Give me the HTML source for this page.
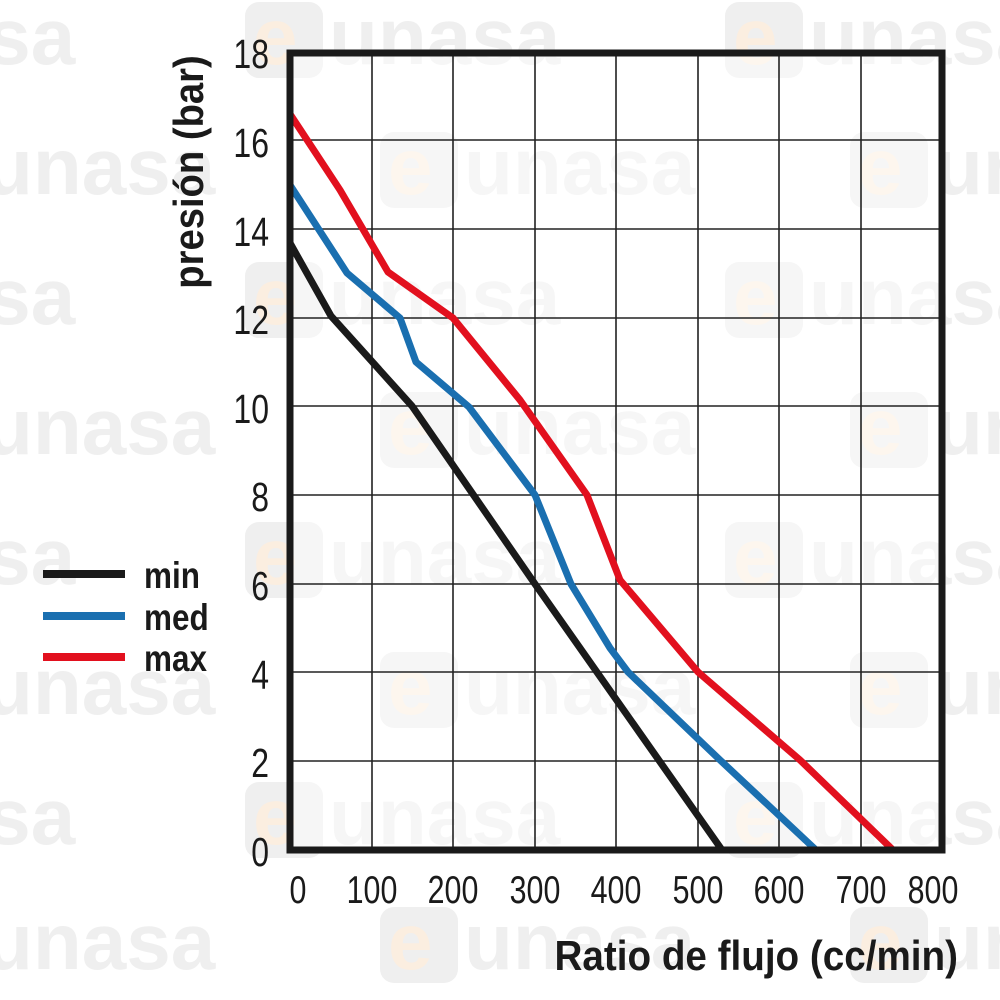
<!DOCTYPE html>
<html><head><meta charset="utf-8"><style>
html,body{margin:0;padding:0;background:#fff;}
svg{display:block;}
</style></head><body>
<svg width="1000" height="1000" viewBox="0 0 1000 1000" xmlns="http://www.w3.org/2000/svg">
<defs>
<g id="wm">
<rect x="0" y="-38" width="78" height="76" rx="14" fill="#efefef"/>
<text x="8" y="24" font-family="Liberation Sans, sans-serif" font-size="80" fill="#fbeee0" font-weight="bold">e</text>
<text x="84" y="24" font-family="Liberation Sans, sans-serif" font-size="80" fill="#efefef" font-weight="bold">unasa</text>
</g>
</defs>
<g>
<use href="#wm" x="-240" y="40"/><use href="#wm" x="245" y="40"/><use href="#wm" x="725" y="40"/>
<use href="#wm" x="-100" y="170"/><use href="#wm" x="380" y="170"/><use href="#wm" x="850" y="170"/>
<use href="#wm" x="-240" y="300"/><use href="#wm" x="245" y="300"/><use href="#wm" x="725" y="300"/>
<use href="#wm" x="-100" y="430"/><use href="#wm" x="380" y="430"/><use href="#wm" x="850" y="430"/>
<use href="#wm" x="-240" y="560"/><use href="#wm" x="245" y="560"/><use href="#wm" x="725" y="560"/>
<use href="#wm" x="-100" y="690"/><use href="#wm" x="380" y="690"/><use href="#wm" x="850" y="690"/>
<use href="#wm" x="-240" y="820"/><use href="#wm" x="245" y="820"/><use href="#wm" x="725" y="820"/>
<use href="#wm" x="-100" y="945"/><use href="#wm" x="380" y="945"/><use href="#wm" x="850" y="945"/>
</g>
<rect x="290" y="53" width="652" height="797" fill="#fff" fill-opacity="0.45"/>
<g stroke="#222" stroke-width="1.6">
<line x1="372" y1="53" x2="372" y2="850"/><line x1="453" y1="53" x2="453" y2="850"/>
<line x1="535" y1="53" x2="535" y2="850"/><line x1="616" y1="53" x2="616" y2="850"/>
<line x1="698" y1="53" x2="698" y2="850"/><line x1="779" y1="53" x2="779" y2="850"/>
<line x1="861" y1="53" x2="861" y2="850"/>
<line x1="290" y1="761" x2="942" y2="761"/><line x1="290" y1="672" x2="942" y2="672"/>
<line x1="290" y1="584" x2="942" y2="584"/><line x1="290" y1="495" x2="942" y2="495"/>
<line x1="290" y1="406" x2="942" y2="406"/><line x1="290" y1="318" x2="942" y2="318"/>
<line x1="290" y1="229" x2="942" y2="229"/><line x1="290" y1="140" x2="942" y2="140"/>
</g>
<g fill="none" stroke-width="7" stroke-linejoin="round">
<polyline stroke="#e2101e" points="290,114 340,190 388,272 453,318 520,400 587,495 620,580 698,672 800,760 893,850"/>
<polyline stroke="#1a6fb0" points="290,185 347,273 400,318 416,362 469,407 535,495 571,584 610,648 628,672 720,760 816,850"/>
<polyline stroke="#1a1a1a" points="290,243 331,316 412,406 535,584 722,850"/>
</g>
<rect x="290" y="53" width="652" height="797" fill="none" stroke="#1a1a1a" stroke-width="7"/>
<g font-family="Liberation Sans, sans-serif" font-size="41" fill="#1a1a1a" text-anchor="end">
<text transform="translate(269 68) scale(0.78 1)">18</text>
<text transform="translate(269 157) scale(0.78 1)">16</text>
<text transform="translate(269 246) scale(0.78 1)">14</text>
<text transform="translate(269 334) scale(0.78 1)">12</text>
<text transform="translate(269 423) scale(0.78 1)">10</text>
<text transform="translate(269 511) scale(0.78 1)">8</text>
<text transform="translate(269 600) scale(0.78 1)">6</text>
<text transform="translate(269 689) scale(0.78 1)">4</text>
<text transform="translate(269 777) scale(0.78 1)">2</text>
<text transform="translate(269 866) scale(0.78 1)">0</text>
</g>
<g font-family="Liberation Sans, sans-serif" font-size="39" fill="#1a1a1a" text-anchor="middle">
<text transform="translate(298 903) scale(0.78 1)">0</text>
<text transform="translate(372 903) scale(0.78 1)">100</text>
<text transform="translate(453 903) scale(0.78 1)">200</text>
<text transform="translate(535 903) scale(0.78 1)">300</text>
<text transform="translate(616 903) scale(0.78 1)">400</text>
<text transform="translate(698 903) scale(0.78 1)">500</text>
<text transform="translate(779 903) scale(0.78 1)">600</text>
<text transform="translate(861 903) scale(0.78 1)">700</text>
<text transform="translate(933 903) scale(0.78 1)">800</text>
</g>
<text transform="translate(958 970) scale(0.92 1)" text-anchor="end" font-family="Liberation Sans, sans-serif" font-weight="bold" font-size="42" fill="#1a1a1a">Ratio de flujo (cc/min)</text>
<text transform="translate(203 172) rotate(-90) scale(0.91 1)" text-anchor="middle" font-family="Liberation Sans, sans-serif" font-weight="bold" font-size="42" fill="#1a1a1a">presión (bar)</text>
<g stroke-width="8">
<line x1="43" y1="574" x2="125" y2="574" stroke="#1a1a1a"/>
<line x1="43" y1="616" x2="125" y2="616" stroke="#1a6fb0"/>
<line x1="43" y1="657" x2="125" y2="657" stroke="#e2101e"/>
</g>
<g font-family="Liberation Sans, sans-serif" font-weight="bold" font-size="37" fill="#1a1a1a">
<text transform="translate(144 588) scale(0.85 1)">min</text>
<text transform="translate(144 630) scale(0.85 1)">med</text>
<text transform="translate(144 671) scale(0.85 1)">max</text>
</g>
</svg>
</body></html>
